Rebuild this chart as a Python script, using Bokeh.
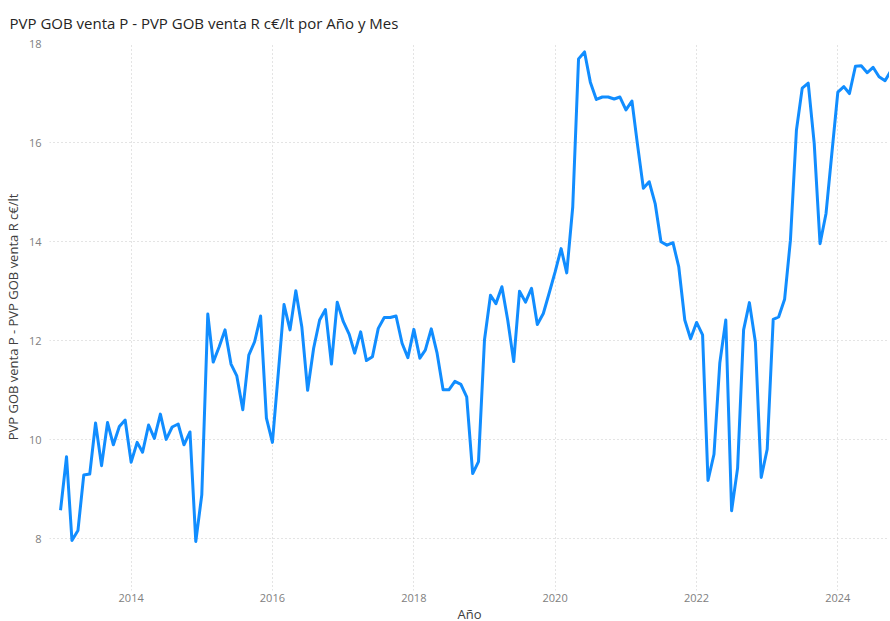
import pandas as pd
from bokeh.plotting import figure
from bokeh.models import Range1d, FixedTicker, CustomJSTickFormatter, Title
from bokeh.embed import file_html
from bokeh.resources import INLINE

# ---- data (monthly, Jan 2013 .. Oct 2024) ----
years = [2013, 2014, 2015, 2016, 2017, 2018, 2019, 2020, 2021, 2022, 2023, 2024]
v2013 = [8.58, 9.66, 7.97, 8.17, 9.29, 9.31, 10.34, 9.48, 10.35, 9.90, 10.27, 10.40]
v2014 = [9.55, 9.95, 9.75, 10.30, 10.03, 10.52, 10.01, 10.26, 10.32, 9.90, 10.16, 7.95]
v2015 = [8.89, 12.54, 11.57, 11.88, 12.22, 11.53, 11.29, 10.61, 11.71, 11.98, 12.50, 10.44]
v2016 = [9.95, 11.38, 12.73, 12.22, 13.01, 12.28, 11.00, 11.85, 12.42, 12.63, 11.53, 12.78]
v2017 = [12.39, 12.13, 11.75, 12.18, 11.60, 11.68, 12.25, 12.47, 12.47, 12.50, 11.95, 11.66]
v2018 = [12.23, 11.65, 11.81, 12.24, 11.75, 11.01, 11.01, 11.18, 11.12, 10.87, 9.32, 9.56]
v2019 = [12.02, 12.92, 12.75, 13.09, 12.42, 11.58, 13.00, 12.78, 13.06, 12.33, 12.55, 12.96]
v2020 = [13.39, 13.86, 13.37, 14.70, 17.69, 17.83, 17.22, 16.87, 16.92, 16.92, 16.88, 16.92]
v2021 = [16.66, 16.84, 15.98, 15.08, 15.21, 14.77, 14.00, 13.93, 13.98, 13.49, 12.42, 12.04]
v2022 = [12.37, 12.12, 9.18, 9.71, 11.55, 12.42, 8.57, 9.43, 12.22, 12.77, 11.97, 9.24]
v2023 = [9.81, 12.43, 12.48, 12.84, 14.03, 16.25, 17.10, 17.20, 15.98, 13.96, 14.57, 15.78]
v2024 = [17.02, 17.13, 16.99, 17.54, 17.55, 17.41, 17.52, 17.33, 17.25, 17.45]
by_year = [v2013, v2014, v2015, v2016, v2017, v2018, v2019, v2020, v2021, v2022, v2023, v2024]

x_ticks = [2014, 2016, 2018, 2020, 2022, 2024]
y_ticks = [8, 10, 12, 14, 16, 18]

title_text = "PVP GOB venta P - PVP GOB venta R c€/lt por Año y Mes"
y_label = "PVP GOB venta P - PVP GOB venta R c€/lt"
x_label = "Año"

dates, values = [], []
for y, vals in zip(years, by_year):
    for m, v in enumerate(vals, start=1):
        dates.append(pd.Timestamp(year=y, month=m, day=1))
        values.append(v)

def ms(ts):
    return ts.value / 1e6

x_start = ms(pd.Timestamp("2012-11-05"))
x_end = ms(pd.Timestamp("2024-09-24"))

p = figure(frame_width=840, frame_height=547, x_axis_type="datetime",
           x_range=Range1d(x_start, x_end), y_range=Range1d(6.96, 18),
           output_backend="svg", toolbar_location=None,
           min_border_left=42, min_border_right=0, min_border_top=35,
           min_border_bottom=24, outline_line_color=None)

p.line(dates, values, line_color="#118DFF", line_width=3, line_join="round")

t = Title(text=title_text, align="left", offset=-40, standoff=21,
          text_font="Open Sans", text_font_size="15px", text_font_style="normal",
          text_color="#252423")
p.add_layout(t, "above")

tick_ms = [ms(pd.Timestamp(year=y, month=1, day=1)) for y in x_ticks]
p.xaxis.ticker = FixedTicker(ticks=tick_ms)
p.xaxis.formatter = CustomJSTickFormatter(code="return new Date(tick).getUTCFullYear().toString();")
p.yaxis.ticker = FixedTicker(ticks=y_ticks)

for ax in (p.xaxis[0], p.yaxis[0]):
    ax.axis_line_color = None
    ax.major_tick_line_color = None
    ax.minor_tick_line_color = None
    ax.major_tick_out = 0
    ax.major_tick_in = 0
    ax.minor_tick_out = 0
    ax.minor_tick_in = 0
    ax.major_label_text_font = "Open Sans"
    ax.major_label_text_font_size = "11px"
    ax.major_label_text_color = "#808080"
    ax.axis_label_text_font = "Open Sans"
    ax.axis_label_text_font_size = "13px"
    ax.axis_label_text_font_style = "normal"
    ax.axis_label_text_color = "#404040"

p.xaxis.axis_label = x_label
p.xaxis.major_label_standoff = 3
p.xaxis.axis_label_standoff = 0
p.yaxis.axis_label = y_label
p.yaxis.major_label_standoff = 8
p.yaxis.axis_label_standoff = 4

p.xgrid.grid_line_color = "#c8c8c8"
p.xgrid.grid_line_dash = "1 3"
p.ygrid.grid_line_color = "#c8c8c8"
p.ygrid.grid_line_dash = "1 3"

open("out.html", "w").write(file_html(p, INLINE))
